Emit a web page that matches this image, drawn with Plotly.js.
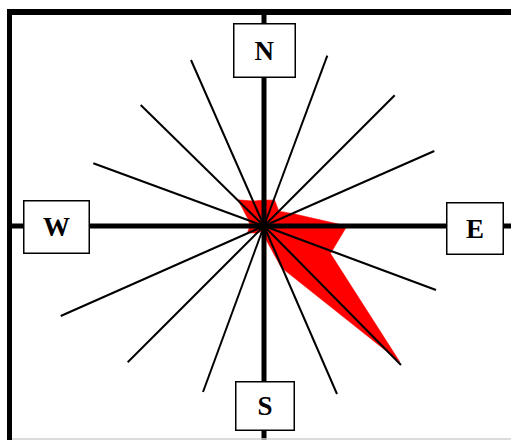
<!DOCTYPE html>
<html>
<head>
<meta charset="utf-8">
<script src="https://cdn.plot.ly/plotly-3.0.1.min.js"></script>
<style>html,body{margin:0;padding:0;background:#fff;}#chart{width:511px;height:440px;}</style>
</head>
<body>
<div id="chart"></div>
<script>
// Compass directions (degrees clockwise from north) for the red rose polygon
const directions = ['N','NNE','NE','ENE','E','ESE','SE','SSE','S','SSW','SW','WSW','W','WNW','NW','NNW'];
const dirAngles = [0,22.5,45,67.5,90,112.5,135,157.5,180,202.5,225,247.5,270,292.5,315,337.5];
const roseValues = [2.6,2.8,2.1,3.2,8.3,7.2,19.2,4.5,1.0,0.6,1.0,1.8,1.4,1.7,3.7,2.7];

// Spoke end points (east, north components) for the 12 intermediate directions
const spokeNames = ['NNE','NE','ENE','ESE','SE','SSE','SSW','SW','WSW','WNW','NW','NNW'];
const spokeEast  = [6.33,13.07,17.03,17.2,13.7,7.3,-6.1,-13.63,-20.33,-17.07,-12.33,-7.3];
const spokeNorth = [17.03,13.07,7.5,-6.4,-13.9,-16.8,-16.6,-13.63,-9.0,6.27,12.1,16.6];

// Cardinal labels
const cardinalLabels = ['N','E','S','W'];

const rx = [], ry = [];
for (let i = 0; i < roseValues.length; i++) {
  const a = dirAngles[i] * Math.PI / 180;
  rx.push(roseValues[i] * Math.sin(a));
  ry.push(roseValues[i] * Math.cos(a));
}
rx.push(rx[0]); ry.push(ry[0]);

const sx = [], sy = [];
for (let i = 0; i < spokeEast.length; i++) {
  sx.push(0, spokeEast[i], null);
  sy.push(0, spokeNorth[i], null);
}

const rose = {
  x: rx, y: ry, type: 'scatter', mode: 'lines', fill: 'toself',
  fillcolor: '#ff0000', line: {color: '#ff0000', width: 0.5}, hoverinfo: 'skip'
};
const spokes = {
  x: sx, y: sy, type: 'scatter', mode: 'lines',
  line: {color: '#000', width: 2}, hoverinfo: 'skip'
};

const labelPos = {N: [0, 17.6], E: [21.05, -0.2], S: [0.05, -17.95], W: [-20.8, -0.05]};
const labelSize = {N: [60, 52], E: [55, 50], S: [57, 47], W: [64, 51]};
const annotations = cardinalLabels.map(l => ({
  x: labelPos[l][0], y: labelPos[l][1], xref: 'x', yref: 'y',
  text: '<b>' + l + '</b>', showarrow: false,
  font: {family: 'Liberation Serif, Times New Roman, serif', size: 27, color: '#000'},
  bgcolor: '#fff', bordercolor: '#000', borderwidth: 1.5, borderpad: 0,
  width: labelSize[l][0], height: labelSize[l][1], xanchor: 'center', yanchor: 'middle'
}));

const shapes = [
  // crosshair axes
  {type: 'line', xref: 'x', yref: 'y', x0: 0, x1: 0, y0: 21.4, y1: -23, line: {color: '#000', width: 5}, layer: 'above'},
  {type: 'line', xref: 'x', yref: 'y', x0: -25.45, x1: 26, y0: 0, y1: 0, line: {color: '#000', width: 5}, layer: 'above'},
  // frame
  {type: 'line', xref: 'x', yref: 'y', x0: -25.7, x1: 26, y0: 21.4, y1: 21.4, line: {color: '#000', width: 6}, layer: 'above'},
  {type: 'line', xref: 'x', yref: 'y', x0: -25.45, x1: -25.45, y0: 21.7, y1: -23, line: {color: '#000', width: 5}, layer: 'above'},
  {type: 'line', xref: 'x', yref: 'y', x0: -25.2, x1: 26, y0: -21.3, y1: -21.3, line: {color: '#d0d0d0', width: 1.5}, layer: 'above'}
];

const layout = {
  width: 511, height: 440,
  margin: {l: 0, r: 0, t: 0, b: 0},
  paper_bgcolor: '#fff', plot_bgcolor: '#fff',
  showlegend: false, hovermode: false,
  xaxis: {range: [-26.4, 24.7], visible: false, fixedrange: true},
  yaxis: {range: [-21.4, 22.6], visible: false, fixedrange: true},
  shapes: shapes, annotations: annotations
};

Plotly.newPlot('chart', [rose, spokes], layout, {displayModeBar: false, staticPlot: true});
</script>
</body>
</html>
